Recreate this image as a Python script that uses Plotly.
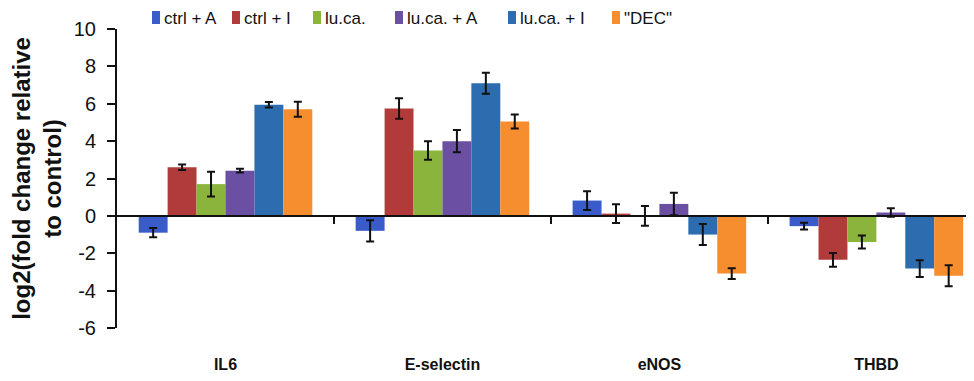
import plotly.graph_objects as go

categories = ["IL6", "E-selectin", "eNOS", "THBD"]
series_names = ["ctrl + A", "ctrl + I", "lu.ca.", "lu.ca. + A", "lu.ca. + I", "\"DEC\""]
colors = ["#3a5ccb", "#b13b3a", "#8bb43c", "#6b4fa2", "#2d6caf", "#f68d2e"]

ctrl_A = [-0.9, -0.8, 0.82, -0.55]
ctrl_I = [2.6, 5.75, 0.12, -2.35]
luca = [1.7, 3.5, 0.0, -1.4]
luca_A = [2.42, 4.0, 0.64, 0.18]
luca_I = [5.95, 7.1, -1.0, -2.82]
dec = [5.71, 5.05, -3.09, -3.2]

err_ctrl_A = [0.25, 0.57, 0.5, 0.18]
err_ctrl_I = [0.15, 0.55, 0.5, 0.37]
err_luca = [0.66, 0.5, 0.53, 0.35]
err_luca_A = [0.1, 0.6, 0.6, 0.23]
err_luca_I = [0.15, 0.56, 0.56, 0.45]
err_dec = [0.4, 0.38, 0.29, 0.56]

values = [ctrl_A, ctrl_I, luca, luca_A, luca_I, dec]
errors = [err_ctrl_A, err_ctrl_I, err_luca, err_luca_A, err_luca_I, err_dec]

yticks = [-6, -4, -2, 0, 2, 4, 6, 8, 10]
ytick_labels = [str(t) for t in yticks]

# page offset: the browser's default body margin (8 px)
OFF = 8
# legend swatch left edges in window pixels (from the reference)
legend_px = [152, 232, 313, 395, 508, 612]
LEG_Y = 18  # legend row centre, window pixels

W, H = 974 - OFF, 381 - OFF
L, R, T, B = 117 - OFF, 0, 29 - OFF, 53
pw, ph = W - L - R, H - T - B


def py(win_y):
    """window pixel y -> paper y"""
    return (H - B - (win_y - OFF)) / ph


fig = go.Figure()
for name, col, v, e in zip(series_names, colors, values, errors):
    fig.add_trace(go.Bar(
        x=categories, y=v, name=name,
        marker=dict(color=col, line=dict(width=0)),
        error_y=dict(type="data", array=e, visible=True, color="#111111", thickness=2, width=4),
    ))

font_main = "Liberation Sans, Arial, sans-serif"

shapes = []
annotations = []
for name, col, px in zip(series_names, colors, legend_px):
    fx = px - OFF
    shapes.append(dict(type="rect", xref="paper", yref="paper",
                       x0=(fx - L) / pw, x1=(fx + 8 - L) / pw,
                       y0=py(LEG_Y + 6), y1=py(LEG_Y - 7),
                       fillcolor=col, line=dict(width=0), layer="above"))
    annotations.append(dict(text=name, xref="paper", yref="paper", x=(fx + 11 - L) / pw,
                            y=py(LEG_Y), xanchor="left", yanchor="middle",
                            showarrow=False, borderpad=0,
                            font=dict(family=font_main, size=17, color="#111111")))

fig.update_layout(
    width=W, height=H,
    margin=dict(l=L, r=R, t=T, b=B, autoexpand=False),
    paper_bgcolor="white", plot_bgcolor="white",
    barmode="group", bargap=0.2, bargroupgap=0,
    font=dict(family=font_main, color="#111111"),
    showlegend=False,
    shapes=shapes, annotations=annotations,
    xaxis=dict(type="category", range=[-0.5, 3.45], showline=False, ticks="", showgrid=False,
               zeroline=False, ticklabelstandoff=25, automargin=False,
               tickfont=dict(family=font_main, size=16, color="#111111", weight="bold")),
    xaxis2=dict(overlaying="x", anchor="free", position=6/16, side="bottom", range=[-0.5, 3.45],
                showline=True, linecolor="#111111", linewidth=2, ticks="outside", ticklen=7,
                tickwidth=2, tickcolor="#111111", tickvals=[0.5, 1.5, 2.5], showticklabels=False,
                showgrid=False, zeroline=False, automargin=False),
    yaxis=dict(range=[-6, 10], tickvals=yticks, ticktext=ytick_labels, showline=True,
               linecolor="#111111", linewidth=2, automargin=False,
               ticks="outside", ticklen=8, tickwidth=2, tickcolor="#111111", showgrid=False,
               zeroline=False, ticklabelstandoff=7,
               tickfont=dict(family=font_main, size=20, color="#111111"),
               title=dict(text="log2(fold change relative<br>to control)", standoff=17,
                          font=dict(family=font_main, size=24, color="#111111", weight="bold"))),
)
# invisible trace that activates the zero-level category axis
fig.add_trace(go.Scatter(x=[0.5], y=[0], xaxis="x2", mode="markers", marker=dict(opacity=0),
                         showlegend=False, hoverinfo="skip"))
fig.write_html("out.html")
